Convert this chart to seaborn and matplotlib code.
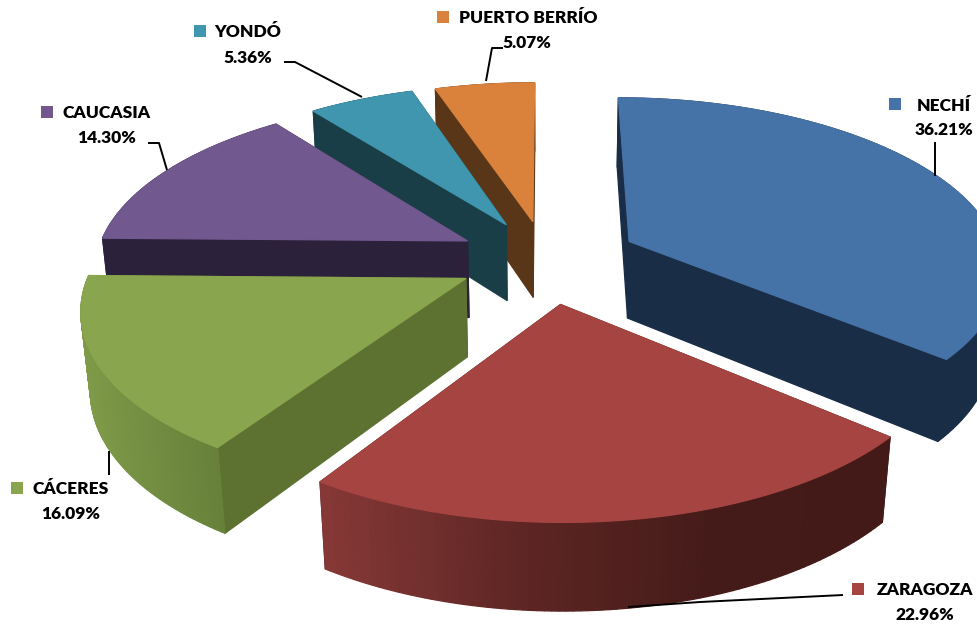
import numpy as np
import pandas as pd
import matplotlib
matplotlib.use("Agg")
import matplotlib.pyplot as plt
import seaborn as sns

# values
municipios = ["NECHÍ", "ZARAGOZA", "CÁCERES", "CAUCASIA", "YONDÓ", "PUERTO BERRÍO"]
porcentajes = [36.21, 22.96, 16.09, 14.30, 5.36, 5.07]

top_colors = ["#4572A7", "#A64442", "#89A54E", "#71588F", "#4096AE", "#DA823B"]
side_colors = ["#1A2D46", "#431A18", "#5D7130", "#2B213A", "#1A3E47", "#5A3618"]
wall_ramps = [
    ["#1A2D46", "#1A2D46"],
    ["#853836", "#5E2624", "#451B19", "#431A18"],
    ["#7F9A48", "#66803A"],
    ["#2B213A", "#2B213A"],
    ["#1A3E47", "#1A3E47"],
    ["#5A3618", "#5A3618"],
]
explode = [0.25, 0.26, 0.24, 0.24, 0.235, 0.23]

df = pd.DataFrame({"municipio": municipios, "pct": porcentajes})

sns.set_theme(style="white")
plt.rcParams["font.family"] = ["Lato", "DejaVu Sans"]

fig = plt.figure(figsize=(9.77, 6.25), dpi=100)
ax = fig.add_axes([0, 0, 1, 1])

# the pie itself gives angles and exploded centres, then it gets projected
wedges, _ = ax.pie(df["pct"], explode=explode, startangle=90, counterclock=False,
                   colors=sns.color_palette(top_colors))
geo = [(w.center, w.r, w.theta1, w.theta2) for w in wedges]
for w in wedges:
    w.remove()

ax.set_aspect("auto")
ax.set_xlim(0, 977)
ax.set_ylim(625, 0)
ax.axis("off")

# camera
cx, cy = 546, 259
k_x, k_y, k_z = 372, 170, 79
p_y, p_z = 0.15, 0.02


def project(x, y, z):
    w = 1 + p_y * np.asarray(y) + p_z * np.asarray(z)
    return cx + k_x * np.asarray(x) / w, cy + (k_z * np.asarray(z) - k_y * np.asarray(y)) / w


def quad(x, y, z, color, order):
    sx, sy = project(x, y, z)
    ax.fill(sx, sy, color=color, lw=0.9, zorder=order)


# back to front, same order as the picture
draw_order = [5, 4, 0, 3, 2, 1]
base = 1
for i in draw_order:
    (c_x, c_y), r, t1, t2 = geo[i]
    ang = np.radians(np.linspace(t1, t2, 90))
    xs = c_x + r * np.cos(ang)
    ys = c_y + r * np.sin(ang)

    faces = []
    for xe, ye in [(xs[0], ys[0]), (xs[-1], ys[-1])]:
        faces.append((ye + c_y, [c_x, xe, xe, c_x], [c_y, ye, ye, c_y], side_colors[i]))

    sx_arc, _ = project(xs, ys, 0)
    ramp = sns.blend_palette(wall_ramps[i], 64)
    lo, hi = sx_arc.min(), sx_arc.max()
    for j in range(len(xs) - 1):
        t = (sx_arc[j] - lo) / max(hi - lo, 1)
        faces.append((ys[j] * 2, [xs[j], xs[j + 1], xs[j + 1], xs[j]],
                      [ys[j], ys[j + 1], ys[j + 1], ys[j]], ramp[int(t * 63)]))

    faces.sort(key=lambda f: -f[0])
    for _, fx, fy, col in faces:
        quad(fx, fy, [0, 0, 1, 1], col, base)
    base += 1

    top_x = np.r_[c_x, xs]
    top_y = np.r_[c_y, ys]
    quad(top_x, top_y, np.zeros(len(top_x)), top_colors[i], base)
    base += 1

# leader lines
leaders = [
    ([935, 935], [142, 176]),
    ([628, 700, 843], [607, 602, 595]),
    ([109, 109], [451, 475]),
    ([148, 159, 167], [143, 143, 170]),
    ([284, 295, 362], [62, 62, 97]),
    ([503, 492, 486], [48, 48, 81]),
]
for lx, ly in leaders:
    ax.plot(lx, ly, color="black", lw=1.4, zorder=50, solid_capstyle="butt")

# legend squares and labels
marker_pos = [(895, 104), (858, 589), (17, 488), (47, 112), (200, 31), (443, 17)]
name_pos = [(944, 106), (925, 590), (71, 489), (107, 113), (248, 32), (528, 18)]
pct_pos = [(944, 130), (925, 615), (71, 514), (107, 138), (248, 58), (527, 43)]
for i, row in df.iterrows():
    ax.scatter(*marker_pos[i], marker="s", s=75, color=top_colors[i], lw=0, zorder=60)
    ax.text(*name_pos[i], row["municipio"], ha="center", va="center",
            fontsize=12.5, fontweight="heavy", color="black", zorder=60)
    ax.text(*pct_pos[i], f"{row['pct']:.2f}%", ha="center", va="center",
            fontsize=12.5, fontweight="heavy", color="black", zorder=60)

fig.savefig("out.png", dpi=100, facecolor="white")
